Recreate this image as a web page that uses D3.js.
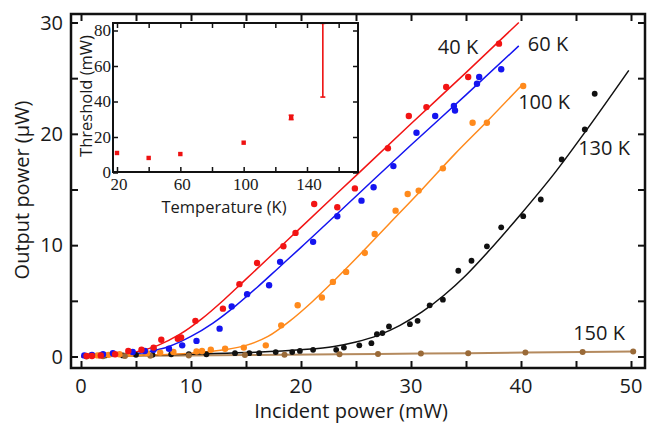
<!DOCTYPE html>
<html><head><meta charset="utf-8">
<script src="https://cdn.jsdelivr.net/npm/d3@7"></script>
<style>
html,body{margin:0;padding:0;background:#fff;}
svg{display:block;}
text{font-family:"Open Sans","Noto Sans",sans-serif;fill:#1a1a1a;}
.serif{font-family:"Liberation Serif","DejaVu Serif",serif;}
</style></head>
<body>
<svg id="chart" width="654" height="426"></svg>
<script>
// ---------- data ----------
const seriesNames = ["40 K", "60 K", "100 K", "130 K", "150 K"];
const seriesColors = ["#f21414", "#1414f0", "#ff8a1c", "#111111", "#9a6a38"];

const red40X = [0.5,1.0,1.8,3.1,4.3,5.5,6.6,7.3,8.8,9.1,10.4,12.9,14.4,16.0,18.4,19.5,21.2,23.3,24.9,27.9,29.8,31.4,33.2,35.2,38.0];
const red40Y = [0.05,0.05,0.1,0.2,0.5,0.6,0.8,1.5,1.6,1.7,3.2,4.3,6.5,8.4,9.9,11.1,13.7,13.4,15.1,18.7,21.6,22.4,24.2,25.1,28.1];

const blue60X = [0.3,1.0,2.0,2.9,4.7,5.8,6.6,8.0,9.2,10.5,12.6,13.7,15.1,17.1,18.1,21.1,23.3,25.5,26.6,28.4,30.5,32.2,33.9,34.0,36.0,36.2,38.2];
const blue60Y = [0.1,0.15,0.2,0.3,0.4,0.5,0.6,0.7,1.0,1.4,2.5,4.5,5.6,6.4,8.5,10.3,12.6,14.0,15.2,17.1,20.1,21.6,22.5,22.1,24.5,25.1,25.8];

const orange100X = [0.9,1.5,2.5,3.5,4.5,6.0,7.2,8.4,10.5,11.0,11.8,13.1,14.8,16.8,18.2,19.7,21.9,22.9,24.1,25.8,26.7,28.6,29.7,30.7,32.9,35.6,36.9,40.2];
const orange100Y = [0.1,0.1,0.15,0.2,0.25,0.3,0.35,0.4,0.45,0.5,0.6,0.7,0.8,1.0,2.8,4.6,5.3,6.7,7.6,9.3,11.0,13.1,14.6,14.9,16.9,21.0,21.0,24.3];

const black130X = [0.5,1.7,2.2,3.8,5.0,6.5,8.2,9.8,11.4,14.0,15.3,16.2,17.7,19.2,19.9,21.1,23.2,23.9,25.3,26.4,26.9,27.4,28.0,29.9,30.6,31.7,32.9,34.3,35.5,36.9,38.2,40.2,41.8,43.7,45.8,46.7];
const black130Y = [0.05,0.1,0.1,0.1,0.15,0.15,0.2,0.2,0.2,0.3,0.3,0.3,0.4,0.4,0.5,0.6,0.6,0.8,1.0,1.2,2.0,2.1,2.7,2.9,3.2,4.6,5.1,7.7,8.6,9.9,11.6,12.6,14.1,17.7,20.4,23.6];

const brown150X = [0.5,2.0,4.0,6.3,9.8,14.9,18.5,23.5,27.0,30.9,35.2,40.4,45.6,50.2];
const brown150Y = [0.0,0.02,0.04,0.06,0.09,0.13,0.16,0.2,0.23,0.27,0.3,0.35,0.4,0.45];

// fitted curves
const fit40X = [0,3,5,7,9,11,13,15,17,20,25,30,35,39.8];
const fit40Y = [0,0.15,0.4,1.0,2.0,3.4,5.1,6.95,8.8,11.6,16.25,20.9,25.5,30.0];
const fit60X = [0,3,6,8,10,12,14,16,18,20,25,30,35,39.8];
const fit60Y = [0,0.1,0.4,0.9,1.8,3.0,4.5,6.2,8.0,9.8,14.4,19.0,23.5,27.9];
const fit100X = [0,5,10,13,15,17,19,21,23,25,28,31,34,37,40];
const fit100Y = [0,0.1,0.3,0.6,1.0,1.8,3.2,4.9,6.8,8.8,11.9,15.0,18.2,21.2,24.3];
const fit130X = [0,10,15,20,23,25,27,29,31,33,35,37,40,43,46,49.8];
const fit130Y = [0,0.2,0.35,0.6,0.9,1.3,1.9,2.8,4.0,5.5,7.3,9.4,12.8,16.4,20.4,25.7];

const xTicks = [0,10,20,30,40,50];
const yTicks = [0,10,20,30];

// inset
const insetT = [20,40,60,100,130,150];
const insetThr = [11.0,8.2,10.4,16.8,31.1,null];
const insetLo = [null,null,null,null,29.8,42.5];
const insetHi = [null,null,null,null,32.3,84];
const insetXTicks = [20,60,100,140];
const insetYTicks = [0,20,40,60,80];

// ---------- drawing ----------
const svg = d3.select("#chart");
const frame = {l:71, r:645, t:14, b:368};
const x = d3.scaleLinear().domain([0,50]).range([81,631]);
const y = d3.scaleLinear().domain([0,30]).range([356.5,22.5]);

const gMain = svg.append("g");
const tickLen = 7;
const xMinor = d3.range(0,51,5), yMinor = d3.range(0,31,5);
gMain.append("g").attr("transform",`translate(0,${frame.b})`)
  .call(d3.axisBottom(x).tickValues(xMinor).tickSize(-tickLen).tickFormat(""))
  .call(g=>g.select(".domain").remove());
gMain.append("g").attr("transform",`translate(0,${frame.t})`)
  .call(d3.axisTop(x).tickValues(xMinor).tickSize(-tickLen).tickFormat(""))
  .call(g=>g.select(".domain").remove());
gMain.append("g").attr("transform",`translate(${frame.l},0)`)
  .call(d3.axisLeft(y).tickValues(yMinor).tickSize(-tickLen).tickFormat(""))
  .call(g=>g.select(".domain").remove());
gMain.append("g").attr("transform",`translate(${frame.r},0)`)
  .call(d3.axisRight(y).tickValues(yMinor).tickSize(-tickLen).tickFormat(""))
  .call(g=>g.select(".domain").remove());
gMain.selectAll(".tick line").attr("stroke","#111").attr("stroke-width",2);

gMain.append("g").selectAll("text").data(xTicks).join("text")
  .attr("x",d=>x(d)).attr("y",393).attr("text-anchor","middle")
  .attr("font-size",20).text(d=>d);
gMain.append("g").selectAll("text").data(yTicks).join("text")
  .attr("x",63).attr("y",d=>y(d)).attr("dy","0.36em").attr("text-anchor","end")
  .attr("font-size",20).text(d=>d);

svg.append("text").attr("x",351).attr("y",418).attr("text-anchor","middle")
  .attr("font-size",20).text("Incident power (mW)");
svg.append("text").attr("transform","translate(29,190) rotate(-90)").attr("text-anchor","middle")
  .attr("font-size",20).text("Output power (\u03bcW)");

const line = d3.line().x(d=>x(d[0])).y(d=>y(d[1]));
const curve = d3.line().x(d=>x(d[0])).y(d=>y(d[1])).curve(d3.curveMonotoneX);
svg.append("path").datum(d3.zip(brown150X,brown150Y)).attr("d",line)
  .attr("fill","none").attr("stroke","#b48a5e").attr("stroke-width",2);

const fits = [[fit130X,fit130Y,3],[fit100X,fit100Y,2],[fit60X,fit60Y,1],[fit40X,fit40Y,0]];
fits.forEach(([fx,fy,ci])=>{
  svg.append("path").datum(d3.zip(fx,fy)).attr("d",curve)
    .attr("fill","none").attr("stroke",seriesColors[ci]).attr("stroke-width",1.5);
});

const pts = [[black130X,black130Y,3,2.9],[brown150X,brown150Y,4,3],[orange100X,orange100Y,2,3.2],[blue60X,blue60Y,1,3.2],[red40X,red40Y,0,3.2]];
pts.forEach(([px,py,ci,r])=>{
  svg.append("g").selectAll("circle").data(d3.zip(px,py)).join("circle")
    .attr("cx",d=>x(d[0])).attr("cy",d=>y(d[1])).attr("r",r).attr("fill",seriesColors[ci]);
});

svg.append("rect").attr("x",frame.l).attr("y",frame.t).attr("width",frame.r-frame.l).attr("height",frame.b-frame.t)
  .attr("fill","none").attr("stroke","#111").attr("stroke-width",2.5);

const labelPos = [[458,47],[548,44],[544,102],[604,148],[599,333]];
svg.append("g").selectAll("text").data(seriesNames).join("text")
  .attr("x",(d,i)=>labelPos[i][0]).attr("y",(d,i)=>labelPos[i][1]).attr("dy","0.36em")
  .attr("text-anchor","middle").attr("font-size",20).text(d=>d);

// ---------- inset ----------
const ins = {l:113, r:358, t:23, b:172};
const ix = d3.scaleLinear().domain([20,140]).range([117,307]);
const iy = d3.scaleLinear().domain([0,80]).range([172.5,30.5]);
const gi = svg.append("g");
gi.append("rect").attr("x",ins.l).attr("y",ins.t).attr("width",ins.r-ins.l).attr("height",ins.b-ins.t).attr("fill","#fff");
const iTx = d3.range(20,161,20), iTy = insetYTicks;
const itl = 5;
gi.append("g").attr("transform",`translate(0,${ins.b})`).call(d3.axisBottom(ix).tickValues(iTx).tickSize(-itl).tickFormat("")).call(g=>g.select(".domain").remove());
gi.append("g").attr("transform",`translate(0,${ins.t})`).call(d3.axisTop(ix).tickValues(iTx).tickSize(-itl).tickFormat("")).call(g=>g.select(".domain").remove());
gi.append("g").attr("transform",`translate(${ins.l},0)`).call(d3.axisLeft(iy).tickValues(iTy).tickSize(-itl).tickFormat("")).call(g=>g.select(".domain").remove());
gi.append("g").attr("transform",`translate(${ins.r},0)`).call(d3.axisRight(iy).tickValues(iTy).tickSize(-itl).tickFormat("")).call(g=>g.select(".domain").remove());
gi.selectAll(".tick line").attr("stroke","#111").attr("stroke-width",1.5);

gi.append("g").selectAll("text").data(insetXTicks).join("text").attr("class","serif")
  .attr("x",d=>ix(d)+2).attr("y",190).attr("text-anchor","middle").attr("font-size",17).text(d=>d);
gi.append("g").selectAll("text").data(insetYTicks).join("text").attr("class","serif")
  .attr("x",111).attr("y",d=>iy(d)).attr("dy","0.33em").attr("text-anchor","end").attr("font-size",17).text(d=>d);

gi.append("text").attr("x",224).attr("y",213).attr("text-anchor","middle").attr("font-size",16.5).text("Temperature (K)");
gi.append("text").attr("transform","translate(92,96) rotate(-90)").attr("text-anchor","middle").attr("font-size",16.5).text("Threshold (mW)");

const eb = insetT.map((t,i)=>({t,lo:insetLo[i],hi:insetHi[i]})).filter(d=>d.lo!==null);
const ge = gi.append("g").attr("stroke","#ee1111").attr("stroke-width",1.6);
ge.selectAll(".v").data(eb).join("line").attr("x1",d=>ix(d.t)).attr("x2",d=>ix(d.t)).attr("y1",d=>iy(d.lo)).attr("y2",d=>iy(d.hi));
ge.selectAll(".c1").data(eb).join("line").attr("x1",d=>ix(d.t)-2.5).attr("x2",d=>ix(d.t)+2.5).attr("y1",d=>iy(d.lo)).attr("y2",d=>iy(d.lo));
ge.selectAll(".c2").data(eb).join("line").attr("x1",d=>ix(d.t)-2.5).attr("x2",d=>ix(d.t)+2.5).attr("y1",d=>iy(d.hi)).attr("y2",d=>iy(d.hi));
gi.append("g").selectAll("rect").data(insetT.map((t,i)=>[t,insetThr[i]]).filter(d=>d[1]!==null)).join("rect")
  .attr("x",d=>ix(d[0])-2.2).attr("y",d=>iy(d[1])-2.2).attr("width",4.4).attr("height",4.4).attr("fill","#ee1111");

gi.append("rect").attr("x",ins.l).attr("y",ins.t).attr("width",ins.r-ins.l).attr("height",ins.b-ins.t)
  .attr("fill","none").attr("stroke","#111").attr("stroke-width",2);
</script>
</body></html>
